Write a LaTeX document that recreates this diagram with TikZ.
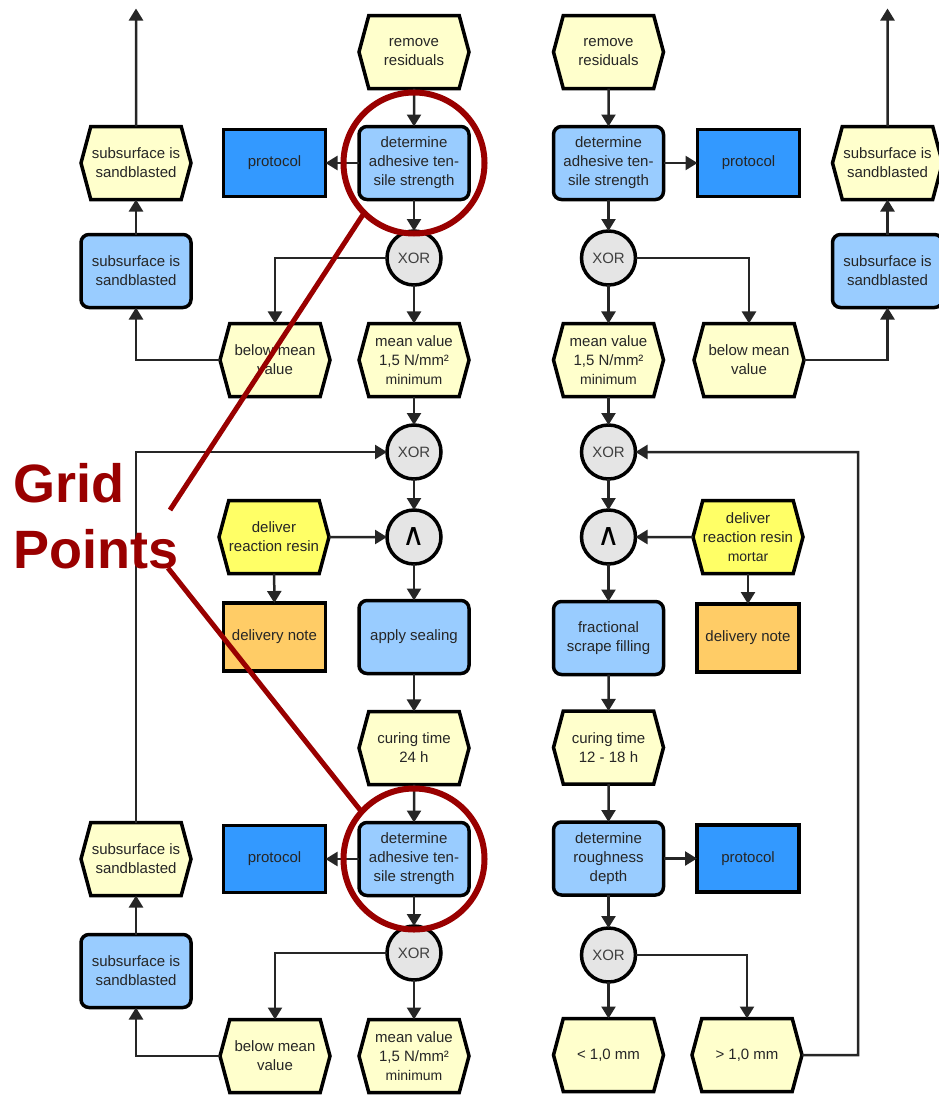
\documentclass[tikz,border=0pt]{standalone}
\usepackage{fontspec}
\setmainfont{Liberation Sans}
\newfontfamily\opsymfont{DejaVu Sans}
\usetikzlibrary{shapes.symbols, arrows.meta, positioning, calc}

\definecolor{evyellow}{HTML}{FFFFCC}
\definecolor{fnblue}{HTML}{99CCFF}
\definecolor{protblue}{HTML}{3399FF}
\definecolor{resinyellow}{HTML}{FFFF66}
\definecolor{noteorange}{HTML}{FFCC66}
\definecolor{opgray}{HTML}{E5E5E5}
\definecolor{markred}{HTML}{990000}

\begin{document}
\begin{tikzpicture}[
    every node/.style={draw, line width=3.5pt, outer sep=0pt, text=black!85, align=center,
      font=\fontsize{15}{19}\selectfont},
    evt/.style={signal, signal to=east and west, signal pointer angle=150, fill=evyellow,
      minimum width=110pt, minimum height=73pt, inner xsep=0pt},
    fnc/.style={rectangle, rounded corners=8pt, fill=fnblue, minimum width=110pt, minimum height=73pt, inner xsep=2pt},
    protbox/.style={rectangle, fill=protblue, minimum width=102pt, minimum height=67pt},
    resinevt/.style={evt, fill=resinyellow},
    notebox/.style={rectangle, fill=noteorange, minimum width=102pt, minimum height=68pt},
    opcircle/.style={circle, fill=opgray, minimum size=54pt, inner sep=0pt, text=black!75},
    andop/.style={opcircle, text=black, font=\opsymfont\fontsize{31}{31}\selectfont},
    conn/.style={draw=black!85, line width=2.5pt, -{Triangle[length=12pt,width=14pt]}},
    gridring/.style={circle, draw=markred, line width=6pt, minimum size=141pt},
    gridline/.style={draw=markred, line width=5pt},
  ]
  \useasboundingbox (0,0) rectangle (938pt,-1095pt);

  % left chain: adhesive tensile strength -> sealing
  \node[evt] (rr1) at (414pt,-52pt) {remove\\residuals};
  \node[fnc, below=38pt of rr1] (dat1) {determine\\adhesive ten-\\sile strength};
  \node[opcircle, below=31.5pt of dat1] (xor1) {XOR};
  \node[evt, below=38.5pt of xor1] (mv1) {mean value\\1,5 N/mm²\\{\fontsize{14}{19}\selectfont minimum}};
  \node[opcircle, below=28.5pt of mv1] (xor2) {XOR};
  \node[andop, below=31pt of xor2] (and1) {∧};
  \node[fnc, below=36.5pt of and1] (seal) {apply sealing};
  \node[evt, below=38pt of seal] (cure1) {curing time\\24 h};
  \node[fnc, below=38pt of cure1] (dat2) {determine\\adhesive ten-\\sile strength};
  \node[opcircle, below=30.5pt of dat2] (xor3) {XOR};
  \node[evt, below=39.5pt of xor3] (mv2) {mean value\\1,5 N/mm²\\{\fontsize{14}{19}\selectfont minimum}};

  \node[protbox, left=33.5pt of dat1] (prot1) {protocol};
  \node[evt, left=29pt of mv1] (bmv1) {below mean\\value};
  \node[evt, left=32.5pt of prot1] (sub1y) {subsurface is\\sandblasted};
  \node[fnc, below=35pt of sub1y] (sub1b) {subsurface is\\sandblasted};
  \node[resinevt, left=58pt of and1] (deliv1) {deliver\\reaction resin};
  \node[notebox, left=33.5pt of seal] (note1) {delivery note};
  \node[protbox, left=33.5pt of dat2] (prot2) {protocol};
  \node[evt, left=29pt of mv2] (bmv2) {below mean\\value};
  \node[evt, left=32.5pt of prot2] (sub2y) {subsurface is\\sandblasted};
  \node[fnc, below=39pt of sub2y] (sub2b) {subsurface is\\sandblasted};

  % right chain: roughness depth -> scrape filling
  \node[evt] (rr2) at (608.5pt,-52pt) {remove\\residuals};
  \node[fnc, below=38pt of rr2] (dat3) {determine\\adhesive ten-\\sile strength};
  \node[opcircle, below=31.5pt of dat3] (xor4) {XOR};
  \node[evt, below=38.5pt of xor4] (mv3) {mean value\\1,5 N/mm²\\{\fontsize{14}{19}\selectfont minimum}};
  \node[opcircle, below=28.5pt of mv3] (xor5) {XOR};
  \node[andop, below=31pt of xor5] (and2) {∧};
  \node[fnc, below=37.5pt of and2] (frac) {fractional\\scrape filling};
  \node[evt, below=36.5pt of frac] (cure2) {curing time\\12 - 18 h};
  \node[fnc, below=38pt of cure2] (drd) {determine\\roughness\\depth};
  \node[opcircle, below=33pt of drd] (xor6) {XOR};
  \node[evt, below=36.5pt of xor6] (lt) {< 1,0 mm};

  \node[protbox, right=34pt of dat3] (prot3) {protocol};
  \node[evt, right=30.5pt of mv3] (bmv3) {below mean\\value};
  \node[evt, right=33pt of prot3] (sub3y) {subsurface is\\sandblasted};
  \node[fnc, below=35pt of sub3y] (sub3b) {subsurface is\\sandblasted};
  \node[resinevt, right=57.5pt of and2] (deliv2) {deliver\\reaction resin\\{\fontsize{14}{19}\selectfont mortar}};
  \node[notebox, right=33.5pt of frac] (note2) {delivery note};
  \node[protbox, right=33.5pt of drd] (prot4) {protocol};
  \node[evt, right=28.5pt of lt] (gt) {> 1,0 mm};

  \coordinate (exitl) at ($(sub1y.north)+(0,118pt)$);
  \coordinate (exitr) at ($(sub3y.north)+(0,118pt)$);
  \coordinate (loopr) at ($(gt.east)+(56pt,0)$);

  \foreach \from/\to in {rr1/dat1, dat1/prot1, dat1/xor1, xor1/mv1, mv1/xor2, xor2/and1,
      and1/seal, seal/cure1, cure1/dat2, dat2/prot2, dat2/xor3, xor3/mv2,
      deliv1/and1, deliv1/note1, sub1b/sub1y, sub1y/exitl, sub2b/sub2y,
      rr2/dat3, dat3/prot3, dat3/xor4, xor4/mv3, mv3/xor5, xor5/and2,
      and2/frac, frac/cure2, cure2/drd, drd/prot4, drd/xor6, xor6/lt,
      deliv2/and2, deliv2/note2, sub3b/sub3y, sub3y/exitr}
    \draw[conn] (\from) -- (\to);
  \draw[conn] (xor1) -| (bmv1);
  \draw[conn] (bmv1) -| (sub1b);
  \draw[conn] (xor3) -| (bmv2);
  \draw[conn] (bmv2) -| (sub2b);
  \draw[conn] (sub2y) |- (xor2);
  \draw[conn] (xor4) -| (bmv3);
  \draw[conn] (bmv3) -| (sub3b);
  \draw[conn] (xor6) -| (gt);
  \draw[conn] (gt) -- (loopr) |- (xor5);

  % grid point markers
  \node[gridring] (ring1) at (dat1) {};
  \node[gridring] (ring2) at (dat2) {};
  \node[draw=none, text=markred, align=left, anchor=north west, inner sep=0pt,
    font=\bfseries\fontsize{54}{66}\selectfont] (gridlabel) at (13pt,-463pt) {Grid\\Points};
  \coordinate (gp1) at (170pt,-510pt);
  \coordinate (gp2) at (168pt,-568pt);
  \draw[gridline] (ring1.225) -- (gp1);
  \draw[gridline] (gp2) -- (ring2.138);
\end{tikzpicture}
\end{document}
